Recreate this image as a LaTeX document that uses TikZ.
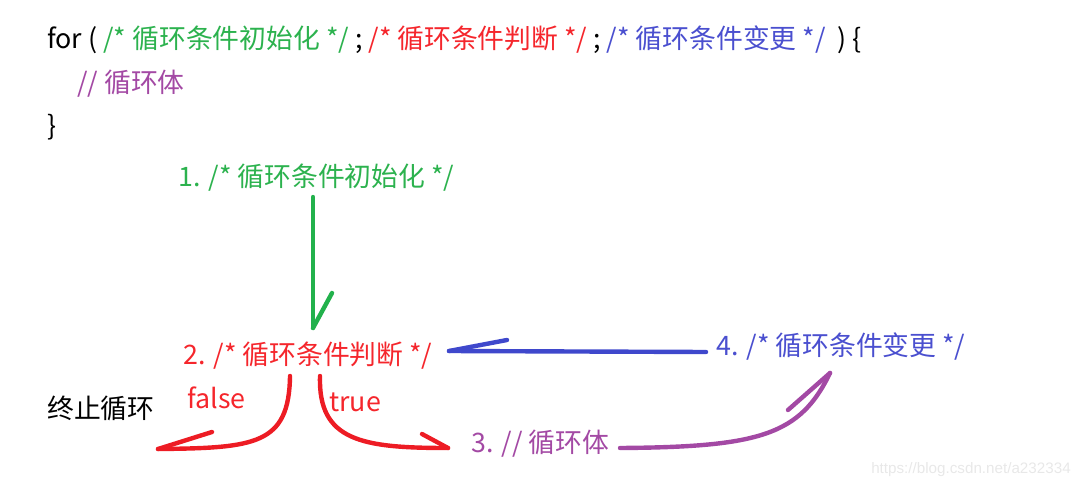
\documentclass[tikz,border=0pt]{standalone}
\usepackage{fontspec}
\newfontfamily\cjk{Noto Sans CJK SC}
\definecolor{pgreen}{HTML}{22B14C}
\definecolor{pred}{HTML}{ED1C24}
\definecolor{pblue}{HTML}{3F48CC}
\definecolor{ppurple}{HTML}{A349A4}
\definecolor{tgreen}{HTML}{2CB24E}
\definecolor{tred}{HTML}{F5262C}
\definecolor{tblue}{HTML}{4A4FCF}
\tikzset{
  txt/.style={anchor=west, inner sep=0pt, font=\cjk\fontsize{20.1pt}{24pt}\selectfont},
  pen/.style={line width=3.3pt, line cap=round, line join=round}
}
\begin{document}
\begin{tikzpicture}[x=0.75pt, y=-0.75pt]
  \useasboundingbox (0,0) rectangle (1087,488);

  % The for statement
  \node[txt] (forline) at (47,40) {for ( \textcolor{tgreen}{/* 循环条件初始化 */} ; \textcolor{tred}{/* 循环条件判断 */} ; \textcolor{tblue}{/* 循环条件变更 */}\ \ ) \{};
  \node[txt, text=ppurple] (body) at (77,84) {// 循环体};
  \node[txt] (close) at (47,127) {\}};

  % Steps
  \node[txt, text=tgreen] (init) at (178,178) {1. /* 循环条件初始化 */};
  \node[txt, text=tred] (cond) at (183,356) {2. /* 循环条件判断 */};
  \node[txt, text=tblue] (update) at (716,347) {4. /* 循环条件变更 */};
  \node[txt, text=ppurple] (loopbody) at (471,444) {3. // 循环体};
  \node[txt, text=tred] (fls) at (187,398) {false};
  \node[txt, text=tred] (tru) at (329,402) {true};
  \node[txt] (stop) at (47,408) {终止循环};
  \node[anchor=west, inner sep=0pt, text=black!9, font=\fontspec{Liberation Sans}\fontsize{11.4pt}{14pt}\selectfont] (mark) at (871,470) {https://blog.csdn.net/a232334};

  % Ends of the hand drawn arrows
  \coordinate (gA) at (313,197);
  \coordinate (gB) at (313,328);
  \coordinate (bA) at (706,352);
  \coordinate (bB) at (449,351);
  \coordinate (fA) at (290,376);
  \coordinate (fB) at (158,449);
  \coordinate (tA) at (320,376);
  \coordinate (tB) at (448,448);
  \coordinate (pA) at (620,448);
  \coordinate (pB) at (830,373);

  % Shafts
  \draw[pen, pgreen] (gA) -- (gB);
  \draw[pen, pblue] (bA) -- (bB);
  \draw[pen, pred] (fA) .. controls (289,445) and (255,448) .. (fB);
  \draw[pen, pred] (tA) .. controls (318,441) and (362,448) .. (tB);
  \draw[pen, ppurple] (pA) .. controls (760,447) and (800,435) .. (pB);

  % Single barbs
  \foreach \tip/\dx/\dy/\col in {gB/19/-35/pgreen, bB/58/-11/pblue, fB/54/-17/pred, tB/-26/-14/pred, pB/-42/37/ppurple}
    \draw[pen, \col] (\tip) -- ++(\dx,\dy);
\end{tikzpicture}
\end{document}
